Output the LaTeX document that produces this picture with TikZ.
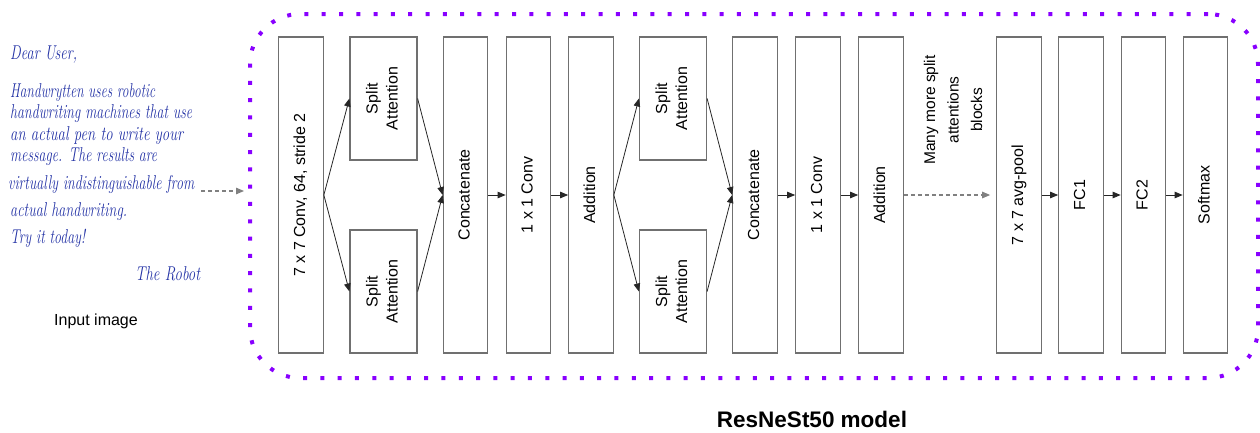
\documentclass[tikz,border=0pt]{standalone}
\usepackage{fontspec}
\usepackage{graphicx}
\setsansfont{Liberation Sans}
\usetikzlibrary{arrows.meta}
\definecolor{boxgray}{RGB}{112,112,112}
\definecolor{dashgray}{RGB}{128,128,128}
\definecolor{framepurple}{RGB}{136,0,255}
\definecolor{handblue}{RGB}{35,50,165}
\newcommand\boxfont{\sffamily\fontsize{16}{20}\selectfont}
\newcommand\handfont{\rmfamily\itshape\fontsize{20}{20}\selectfont}
\newcommand\rt[1]{\rotatebox{90}{\begin{tabular}{@{}c@{}}#1\end{tabular}}}
\newcommand\hl[2]{\resizebox{#1}{\height}{#2}}
\begin{document}
\begin{tikzpicture}[x=1pt,y=-1pt,
  blk/.style={draw=boxgray, line width=1.2pt, minimum width=44.5pt, minimum height=316pt, inner sep=0pt, font=\boxfont},
  sblk/.style={blk, minimum width=67pt, minimum height=123pt},
  arr/.style={-{Triangle[length=8pt,width=6.5pt]}, line width=0.8pt, draw=black!85},
  darr/.style={-{Triangle[length=8pt,width=6.5pt]}, line width=1.1pt, draw=dashgray, dash pattern=on 4pt off 3pt},
  hw/.style={anchor=base west, inner sep=0pt, text=handblue, font=\handfont},
  dots/.style={draw=framepurple, line width=4pt, dash pattern=on 4pt off 13.3pt, rounded corners=50pt},
]
\useasboundingbox (0,0) rectangle (1260,432);

% frame
\node[dots, minimum width=1008pt, minimum height=364pt, inner sep=0pt] (frame) at (754,196) {};

% handwritten input
\node[hw] (l1) at (10,59)  {\hl{67pt}{Dear User,}};
\node[hw] (l2) at (10,97)  {\hl{145pt}{Handwrytten uses robotic}};
\node[hw] (l3) at (10,118) {\hl{182pt}{handwriting machines that use}};
\node[hw] (l4) at (10,140) {\hl{173pt}{an actual pen to write your}};
\node[hw] (l5) at (10,161) {\hl{147pt}{message. The results are}};
\node[hw] (l6) at (8,189)  {\hl{186pt}{virtually indistinguishable from}};
\node[hw] (l7) at (10,216) {\hl{117pt}{actual handwriting.}};
\node[hw] (l8) at (10,243) {\hl{75pt}{Try it today!}};
\node[hw] (l9) at (135,280) {\hl{65pt}{The Robot}};
\node[anchor=base, inner sep=0pt, font=\sffamily\fontsize{16}{16}\selectfont] (inlabel) at (96,325) {Input image};

\coordinate (inA) at (201,191);
\coordinate (inB) at (244,191);
\draw[darr] (inA) -- (inB);

% blocks
\node[blk] (conv7) at (301,195) {\rt{7 x 7 Conv, 64, stride 2}};
\node[sblk] (sa1) at (383.5,98.5) {\rt{Split\\Attention}};
\node[sblk] (sa2) at (383.5,291.5) {\rt{Split\\Attention}};
\node[blk] (cat1) at (465.5,195) {\rt{Concatenate}};
\node[blk] (cv1) at (528.5,195) {\rt{1 x 1 Conv}};
\node[blk] (add1) at (591,195) {\rt{Addition}};
\node[sblk] (sa3) at (673,98.5) {\rt{Split\\Attention}};
\node[sblk] (sa4) at (673,291.5) {\rt{Split\\Attention}};
\node[blk] (cat2) at (755,195) {\rt{Concatenate}};
\node[blk] (cv2) at (818,195) {\rt{1 x 1 Conv}};
\node[blk] (add2) at (881,195) {\rt{Addition}};
\node[rotate=90, align=center, font=\sffamily\fontsize{15.5}{23.5}\selectfont] (more) at (953,110) {Many more split\\attentions\\blocks};
\node[blk] (pool) at (1019,195) {\rt{7 x 7 avg-pool}};
\node[blk] (fc1) at (1081,195) {\rt{FC1}};
\node[blk] (fc2) at (1143.5,195) {\rt{FC2}};
\node[blk] (soft) at (1205.5,195) {\rt{Softmax}};

% connectors
\draw[arr] (conv7.east) -- (sa1.west);
\draw[arr] (conv7.east) -- (sa2.west);
\draw[arr] (sa1.east) -- (cat1.west);
\draw[arr] (sa2.east) -- (cat1.west);
\draw[arr] (cat1) -- (cv1);
\draw[arr] (cv1) -- (add1);
\draw[arr] (add1.east) -- (sa3.west);
\draw[arr] (add1.east) -- (sa4.west);
\draw[arr] (sa3.east) -- (cat2.west);
\draw[arr] (sa4.east) -- (cat2.west);
\draw[arr] (cat2) -- (cv2);
\draw[arr] (cv2) -- (add2);
\draw[darr] (add2.east) -- ([xshift=-6pt]pool.west);
\draw[arr] (pool) -- (fc1);
\draw[arr] (fc1) -- (fc2);
\draw[arr] (fc2) -- (soft);

% title
\node[anchor=base, inner sep=0pt, font=\sffamily\bfseries\fontsize{22.5}{22.5}\selectfont] (title) at (812,427) {ResNeSt50 model};
\end{tikzpicture}
\end{document}
